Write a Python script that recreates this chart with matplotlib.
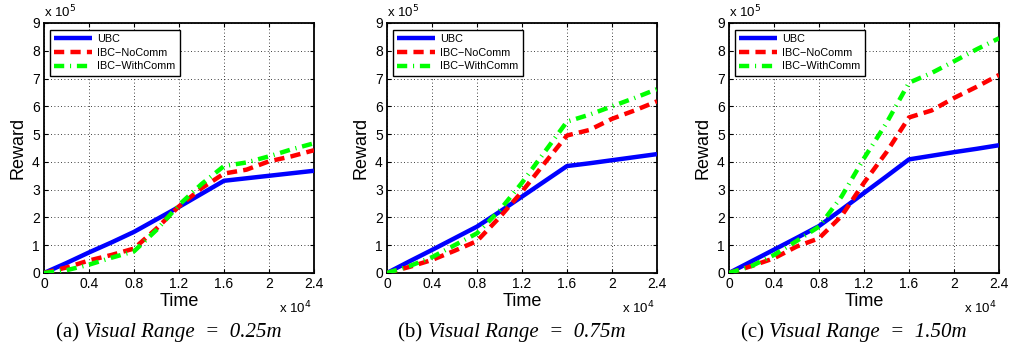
import matplotlib
matplotlib.use("Agg")
import matplotlib.pyplot as plt

plt.rcParams['font.family'] = ['Liberation Sans', 'DejaVu Sans']

# Time in units of 1e4, reward in units of 1e5
time = [0, 0.2, 0.4, 0.6, 0.8, 1.0, 1.2, 1.4, 1.6, 1.8, 2.0, 2.2, 2.4]

ubc_a = [0, 0.36, 0.74, 1.10, 1.48, 1.93, 2.38, 2.85, 3.32, 3.41, 3.50, 3.59, 3.68]
nocomm_a = [0, 0.20, 0.45, 0.65, 0.88, 1.60, 2.40, 3.05, 3.58, 3.72, 4.02, 4.20, 4.42]
withcomm_a = [0, 0.10, 0.30, 0.55, 0.78, 1.55, 2.45, 3.20, 3.85, 3.98, 4.20, 4.45, 4.67]

ubc_b = [0, 0.42, 0.83, 1.25, 1.67, 2.20, 2.75, 3.30, 3.85, 3.95, 4.06, 4.17, 4.28]
nocomm_b = [0, 0.22, 0.47, 0.80, 1.15, 2.00, 2.93, 3.95, 4.95, 5.15, 5.55, 5.85, 6.18]
withcomm_b = [0, 0.25, 0.57, 1.00, 1.43, 2.25, 3.25, 4.35, 5.45, 5.70, 6.00, 6.30, 6.62]

ubc_c = [0, 0.42, 0.84, 1.26, 1.69, 2.28, 2.88, 3.48, 4.09, 4.22, 4.35, 4.47, 4.60]
nocomm_c = [0, 0.25, 0.53, 0.95, 1.25, 2.05, 3.25, 4.35, 5.60, 5.85, 6.30, 6.70, 7.13]
withcomm_c = [0, 0.25, 0.65, 1.15, 1.67, 2.75, 4.13, 5.40, 6.85, 7.20, 7.62, 8.05, 8.45]

series_names = ["UBC", "IBC\u2212NoComm", "IBC\u2212WithComm"]
xticks = [0, 0.4, 0.8, 1.2, 1.6, 2.0, 2.4]
xticklabels = ["0", "0.4", "0.8", "1.2", "1.6", "2", "2.4"]
yticks = list(range(0, 10))
captions_tag = ["(a)", "(b)", "(c)"]
captions_text = ["Visual Range  =  0.25m", "Visual Range  =  0.75m", "Visual Range  =  1.50m"]

panels = [(ubc_a, nocomm_a, withcomm_a),
          (ubc_b, nocomm_b, withcomm_b),
          (ubc_c, nocomm_c, withcomm_c)]

W, H = 1011, 347
fig = plt.figure(figsize=(W / 100, H / 100), dpi=100)
lefts = [44, 387, 729]
ax_w, ax_top, ax_bot = 270, 23, 273
renderer = fig.canvas.get_renderer()

for i, (left, data) in enumerate(zip(lefts, panels)):
    ax = fig.add_axes([left / W, (H - ax_bot) / H, ax_w / W, (ax_bot - ax_top) / H])
    u, n, w = data
    ax.plot(time, u, color=(0, 0, 1), lw=3.2, solid_capstyle='butt', label=series_names[0], zorder=3)
    ax.plot(time, n, color=(1, 0, 0), lw=3.2, dashes=(2.3, 1.4), label=series_names[1], zorder=4)
    ax.plot(time, w, color=(0, 1, 0), lw=3.2, dashes=(2.3, 1.3, 0.25, 1.3), label=series_names[2], zorder=5)
    ax.set_xlim(0, 2.4)
    ax.set_ylim(0, 9)
    ax.set_xticks(xticks)
    ax.set_xticklabels(xticklabels)
    ax.set_yticks(yticks)
    ax.tick_params(direction='in', length=3, width=0.8, labelsize=10, top=True, right=True, pad=3)
    ax.grid(True, color='black', linestyle=(0, (1, 3)), linewidth=0.6)
    for s in ax.spines.values():
        s.set_linewidth(1.3)
    ax.set_xlabel("Time", fontsize=13, labelpad=1)
    ax.set_ylabel("Reward", fontsize=13, labelpad=4)
    leg = ax.legend(loc='upper left', fontsize=7.8, frameon=True, fancybox=False,
                    edgecolor='black', framealpha=1, handlelength=3.5,
                    handletextpad=0.5, labelspacing=0.35, borderpad=0.38,
                    bbox_to_anchor=(0.022, 0.973), borderaxespad=0)
    leg.get_frame().set_linewidth(1.0)
    # scale markers
    fig.text(left / W, (H - 17) / H, "x 10$^{5}$", fontsize=9.5, ha='left', va='baseline')
    fig.text((left + ax_w - 2) / W, (H - 313) / H, "x 10$^{4}$", fontsize=9.5, ha='right', va='baseline')
    # caption, centred as a whole
    cx = left + 125
    cy = (H - 333) / H
    t1 = fig.text(0, cy, captions_tag[i] + " ", fontsize=15, family='Liberation Serif',
                  ha='left', va='center')
    t2 = fig.text(0, cy, captions_text[i], fontsize=15, family='Liberation Serif',
                  style='italic', ha='left', va='center')
    w1 = t1.get_window_extent(renderer).width
    w2 = t2.get_window_extent(renderer).width
    start = cx - (w1 + w2) / 2
    t1.set_x(start / W)
    t2.set_x((start + w1) / W)

fig.savefig("out.png", dpi=100)
